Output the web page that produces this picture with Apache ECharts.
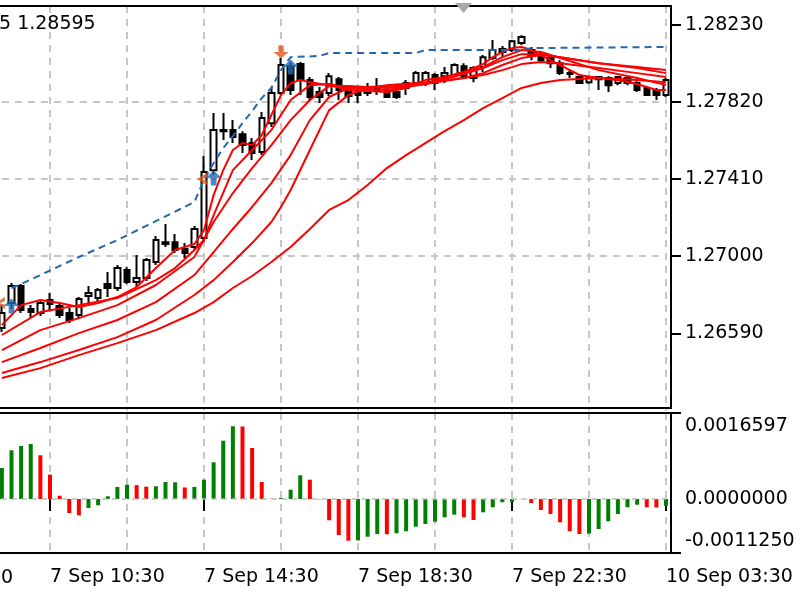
<!DOCTYPE html>
<html>
<head>
<meta charset="utf-8">
<title>GBPUSD,M15</title>
<script src="https://cdn.jsdelivr.net/npm/echarts@6.0.0/dist/echarts.min.js"></script>
<style>
    html, body { margin: 0; padding: 0; background: #fff; }
    #chart { width: 800px; height: 600px; }
</style>
</head>
<body>
<div id="chart"></div>
<script>
// bar times (M15), 7 Sep 09:15 .. 23:45, then 10 Sep 01:00 .. 03:30
function makeTimes(day, h, m, count) {
    let out = [];
    for (let i = 0; i < count; i++) {
        let t = h * 60 + m + i * 15;
        let hh = String(Math.floor(t / 60)).padStart(2, '0');
        let mm = String(t % 60).padStart(2, '0');
        out.push(day + ' ' + hh + ':' + mm);
    }
    return out;
}
const categories = makeTimes('7 Sep', 9, 15, 59).concat(makeTimes('10 Sep', 1, 0, 11));

// open, high, low, close
const ohlc = [
    [1.26618, 1.26740, 1.26597, 1.26698], [1.26751, 1.26858, 1.26719, 1.26842],
    [1.26842, 1.26852, 1.26698, 1.26714], [1.26719, 1.26740, 1.26671, 1.26703],
    [1.26698, 1.26767, 1.26682, 1.26751], [1.26767, 1.26804, 1.26708, 1.26746],
    [1.26735, 1.26756, 1.26671, 1.26687], [1.26698, 1.26724, 1.26645, 1.26661],
    [1.26687, 1.26783, 1.26671, 1.26772], [1.26788, 1.26842, 1.26746, 1.26804],
    [1.26778, 1.26831, 1.26762, 1.26820], [1.26852, 1.26916, 1.26783, 1.26831],
    [1.26831, 1.26953, 1.26815, 1.26937], [1.26927, 1.26942, 1.26852, 1.26863],
    [1.26863, 1.27006, 1.26836, 1.26884], [1.26884, 1.26990, 1.26868, 1.26980],
    [1.26969, 1.27107, 1.26953, 1.27086], [1.27065, 1.27171, 1.27049, 1.27075],
    [1.27075, 1.27118, 1.27017, 1.27033], [1.27038, 1.27070, 1.26990, 1.27017],
    [1.27049, 1.27161, 1.27033, 1.27145], [1.27097, 1.27533, 1.27075, 1.27448],
    [1.27458, 1.27762, 1.27432, 1.27671], [1.27671, 1.27762, 1.27618, 1.27665],
    [1.27671, 1.27724, 1.27602, 1.27634], [1.27649, 1.27665, 1.27549, 1.27591],
    [1.27602, 1.27629, 1.27512, 1.27549], [1.27554, 1.27767, 1.27538, 1.27735],
    [1.27708, 1.27900, 1.27687, 1.27868], [1.27868, 1.28054, 1.27857, 1.28017],
    [1.28011, 1.28033, 1.27857, 1.27884], [1.28022, 1.28033, 1.27857, 1.27937],
    [1.27937, 1.27953, 1.27825, 1.27847], [1.27873, 1.27900, 1.27815, 1.27847],
    [1.27868, 1.27974, 1.27852, 1.27958], [1.27942, 1.27953, 1.27831, 1.27884],
    [1.27889, 1.27905, 1.27815, 1.27852], [1.27879, 1.27895, 1.27815, 1.27857],
    [1.27868, 1.27921, 1.27852, 1.27895], [1.27889, 1.27948, 1.27857, 1.27879],
    [1.27879, 1.27895, 1.27841, 1.27847], [1.27873, 1.27889, 1.27836, 1.27847],
    [1.27895, 1.27937, 1.27857, 1.27921], [1.27921, 1.27985, 1.27905, 1.27974],
    [1.27921, 1.27985, 1.27905, 1.27974], [1.27964, 1.27974, 1.27884, 1.27921],
    [1.27958, 1.28006, 1.27921, 1.27974], [1.27964, 1.28027, 1.27953, 1.28017],
    [1.28011, 1.28027, 1.27948, 1.27958], [1.27948, 1.28011, 1.27926, 1.28001],
    [1.28006, 1.28070, 1.27980, 1.28059], [1.28054, 1.28150, 1.28043, 1.28097],
    [1.28102, 1.28118, 1.28059, 1.28086], [1.28097, 1.28150, 1.28086, 1.28144],
    [1.28134, 1.28176, 1.28123, 1.28166], [1.28097, 1.28113, 1.28043, 1.28065],
    [1.28070, 1.28086, 1.28027, 1.28043], [1.28054, 1.28065, 1.28001, 1.28027],
    [1.28027, 1.28043, 1.27964, 1.27974], [1.27974, 1.27990, 1.27948, 1.27969],
    [1.27953, 1.27964, 1.27916, 1.27921], [1.27926, 1.27958, 1.27916, 1.27953],
    [1.27953, 1.27958, 1.27884, 1.27942], [1.27948, 1.27958, 1.27873, 1.27910],
    [1.27921, 1.27958, 1.27910, 1.27953], [1.27948, 1.27958, 1.27910, 1.27921],
    [1.27921, 1.27937, 1.27873, 1.27884], [1.27895, 1.27905, 1.27852, 1.27857],
    [1.27884, 1.27895, 1.27831, 1.27857], [1.27857, 1.27948, 1.27847, 1.27937]
];

// moving averages, [bar index, price]
const ma1 = [[0, 1.26634], [2, 1.26740], [4, 1.26767], [6, 1.26751], [8, 1.26730], [10, 1.26751],
    [12, 1.26783], [14, 1.26836], [16, 1.26937], [18, 1.27033], [20, 1.27065], [21, 1.27139],
    [22, 1.27325], [23, 1.27458], [24, 1.27565], [25, 1.27602], [26, 1.27591], [27, 1.27645],
    [28, 1.27751], [29, 1.27857], [30, 1.27921], [31, 1.27937], [32, 1.27926], [34, 1.27910],
    [36, 1.27884], [38, 1.27879], [40, 1.27873], [42, 1.27895], [44, 1.27937], [46, 1.27953],
    [48, 1.27980], [50, 1.28022], [51, 1.28059], [52, 1.28086], [53, 1.28107], [54, 1.28113],
    [55, 1.28097], [56, 1.28070], [57, 1.28043], [58, 1.28017], [60, 1.27964], [62, 1.27948],
    [64, 1.27937], [66, 1.27916], [68, 1.27884], [69, 1.27884]];
const ma2 = [[0, 1.26581], [4, 1.26703], [8, 1.26740], [12, 1.26778], [16, 1.26873], [18, 1.26937],
    [20, 1.27033], [21, 1.27086], [22, 1.27219], [24, 1.27458], [26, 1.27565], [28, 1.27671],
    [30, 1.27831], [32, 1.27910], [34, 1.27916], [36, 1.27895], [40, 1.27884], [44, 1.27916],
    [48, 1.27980], [50, 1.28006], [52, 1.28059], [54, 1.28097], [56, 1.28086], [58, 1.28054],
    [62, 1.27990], [66, 1.27948], [69, 1.27910]];
const ma3 = [[0, 1.26501], [4, 1.26607], [8, 1.26671], [12, 1.26740], [16, 1.26847], [20, 1.26996],
    [22, 1.27182], [24, 1.27336], [26, 1.27469], [28, 1.27591], [30, 1.27724], [32, 1.27831],
    [34, 1.27905], [36, 1.27905], [40, 1.27895], [44, 1.27916], [48, 1.27969], [50, 1.28001],
    [52, 1.28043], [54, 1.28075], [56, 1.28075], [58, 1.28059], [62, 1.28027], [66, 1.28006],
    [69, 1.27990]];
const ma4 = [[0, 1.26437], [4, 1.26512], [8, 1.26591], [12, 1.26661], [16, 1.26756], [20, 1.26900],
    [22, 1.27022], [24, 1.27145], [26, 1.27262], [28, 1.27389], [30, 1.27538], [32, 1.27724],
    [34, 1.27847], [36, 1.27895], [40, 1.27905], [44, 1.27916], [48, 1.27948], [50, 1.27974],
    [52, 1.28017], [54, 1.28054], [56, 1.28070], [58, 1.28059], [62, 1.28027], [66, 1.28001],
    [69, 1.27974]];
const ma5 = [[0, 1.26379], [4, 1.26437], [8, 1.26501], [12, 1.26570], [16, 1.26661], [20, 1.26794],
    [22, 1.26873], [24, 1.26969], [26, 1.27070], [28, 1.27182], [29, 1.27262], [30, 1.27352],
    [32, 1.27565], [34, 1.27777], [36, 1.27857], [38, 1.27895], [40, 1.27910], [44, 1.27926],
    [48, 1.27948], [50, 1.27964], [52, 1.27990], [54, 1.28022], [56, 1.28033], [58, 1.28027],
    [62, 1.28001], [66, 1.27974], [69, 1.27953]];
const ma6 = [[0, 1.26352], [4, 1.26405], [8, 1.26474], [12, 1.26538], [16, 1.26607], [20, 1.26698],
    [22, 1.26756], [24, 1.26831], [26, 1.26895], [28, 1.26969], [30, 1.27049], [32, 1.27145],
    [34, 1.27246], [36, 1.27299], [38, 1.27379], [40, 1.27469], [42, 1.27538], [44, 1.27602],
    [46, 1.27665], [48, 1.27724], [50, 1.27788], [52, 1.27841], [54, 1.27895], [56, 1.27921],
    [58, 1.27937], [62, 1.27948], [66, 1.27937], [69, 1.27926]];

// blue dashed line over the highs
const highLine = [[1, 1.26831], [2, 1.26852], [4, 1.26900], [8, 1.26996], [12, 1.27086], [16, 1.27187],
    [20, 1.27288], [21, 1.27405], [22, 1.27496], [23, 1.27575], [24, 1.27639], [25, 1.27708],
    [26, 1.27772], [27, 1.27841], [28, 1.27895], [29, 1.27990], [30, 1.28059], [33, 1.28065],
    [34, 1.28081], [43, 1.28081], [44, 1.28097], [54, 1.28097], [55, 1.28107], [69, 1.28113]];

// trade arrows
const buyArrows = [[1, 1.26735], [22, 1.27416], [30, 1.28006]];
const sellArrows = [[29, 1.28086]];
const closeMarks = [[0, 1.26751], [21, 1.27411]];

// oscillator histogram and bar colours (g = rising, r = falling)
const osc = [
    0.000708, 0.001112, 0.001210, 0.001256, 0.000998, 0.000555, 0.000075, -0.000320, -0.000372, -0.000205,
    -0.000144, 0.000062, 0.000274, 0.000326, 0.000316, 0.000281, 0.000290, 0.000388, 0.000381, 0.000263,
    0.000274, 0.000441, 0.000838, 0.001331, 0.0016597, 0.001655, 0.001164, 0.000388, 0.000007, 0.000023,
    0.000212, 0.000541, 0.000441, -0.000008, -0.000486, -0.000822, -0.000952, -0.000945, -0.000861, -0.000799,
    -0.000805, -0.000783, -0.000737, -0.000632, -0.000571, -0.000518, -0.000418, -0.000358, -0.000418, -0.000479,
    -0.000304, -0.000189, -0.000075, -0.000070, -0.000005, -0.000091, -0.000251, -0.000342, -0.000532, -0.000737,
    -0.000799, -0.000790, -0.000685, -0.000509, -0.000342, -0.000189, -0.000130, -0.000189, -0.000195, -0.000153
];
const oscColor = ('ggggrrrrrg' + 'ggggrrgggr' + 'gggggrrrrg' + 'ggrrrrrggg' +
    'rgggggggrr' + 'gggggrrrrr' + 'rggggggrrg').split('');

const priceLabels = [1.26590, 1.27000, 1.27410, 1.27820, 1.28230];
const oscLabels = ['0.0016597', '0.0000000', '-0.0011250'];

const FONT = 'DejaVu Sans';
const GRID_LINE = { color: '#c6c6c6', width: 2, type: [7, 6] };
const upArrow = 'path://M7,0 L14,7 L9.5,7 L9.5,14 L4.5,14 L4.5,7 L0,7 Z';
const downArrow = 'path://M4.5,0 L9.5,0 L9.5,7 L14,7 L7,14 L0,7 L4.5,7 Z';
const closeMark = 'path://M0,5 L9,0 L9,3.5 L4.5,5 L9,6.5 L9,10 Z';

const chart = echarts.init(document.getElementById('chart'));

function maSeries(data) {
    return {
        type: 'line',
        xAxisIndex: 0,
        yAxisIndex: 0,
        data: data,
        connectNulls: true,
        symbol: 'none',
        silent: true,
        z: 3,
        lineStyle: { color: '#ff0000', width: 2 }
    };
}

const gridLineEvery8 = (i) => (i - 5) % 8 === 0;
const labelEvery16 = (i) => (i - 5) % 16 === 0;

const option = {
    animation: false,
    backgroundColor: '#ffffff',
    grid: [
        { left: 1.875, right: 134, top: 6, bottom: 189.6, outerBoundsMode: 'none' },
        { left: 1.875, right: 134, top: 413, bottom: 47, outerBoundsMode: 'none' }
    ],
    xAxis: [
        {
            type: 'category',
            gridIndex: 0,
            data: categories,
            boundaryGap: false,
            axisLine: { show: false },
            axisTick: { show: false },
            axisLabel: { show: false },
            splitLine: { show: true, interval: gridLineEvery8, lineStyle: GRID_LINE }
        },
        {
            type: 'category',
            gridIndex: 1,
            data: categories,
            boundaryGap: false,
            axisLine: { show: false },
            axisTick: {
                show: true, interval: labelEvery16, length: 12,
                lineStyle: { color: '#000', width: 2 }
            },
            axisLabel: {
                interval: labelEvery16, align: 'left', margin: 15,
                color: '#000', fontSize: 19, fontFamily: FONT
            },
            splitLine: { show: true, interval: gridLineEvery8, lineStyle: GRID_LINE }
        }
    ],
    yAxis: [
        {
            type: 'value',
            gridIndex: 0,
            position: 'right',
            offset: 5,
            min: 1.2618,
            max: 1.28331,
            interval: 0.0041,
            axisLine: { show: false },
            axisTick: {
                show: true, length: 10, customValues: priceLabels,
                lineStyle: { color: '#000', width: 2 }
            },
            axisLabel: {
                customValues: priceLabels,
                margin: 14, color: '#000', fontSize: 19, fontFamily: FONT,
                formatter: (v) => v.toFixed(5)
            },
            splitLine: { show: true, showMinLine: false, showMaxLine: false, lineStyle: GRID_LINE }
        },
        {
            type: 'value',
            gridIndex: 1,
            position: 'right',
            offset: 5,
            min: -0.0012329,
            max: 0.0019635,
            axisLine: { show: false },
            axisTick: {
                show: true, length: 10, customValues: [-0.0012329, 0.0019635],
                lineStyle: { color: '#000', width: 2 }
            },
            axisLabel: {
                customValues: [Math.max(...osc), 0, Math.min(...osc)],
                margin: 14, color: '#000', fontSize: 19, fontFamily: FONT,
                formatter: (v) => v > 0 ? oscLabels[0] : (v === 0 ? oscLabels[1] : oscLabels[2])
            },
            splitLine: { show: false }
        }
    ],
    series: [
        {
            type: 'candlestick',
            xAxisIndex: 0,
            yAxisIndex: 0,
            barWidth: 6,
            silent: true,
            z: 2,
            data: ohlc.map(r => [r[0], r[3], r[2], r[1]]),
            itemStyle: {
                color: '#ffffff',
                color0: '#000000',
                borderColor: '#000000',
                borderColor0: '#000000',
                borderWidth: 2
            }
        },
        maSeries(ma6),
        maSeries(ma5),
        maSeries(ma4),
        maSeries(ma3),
        maSeries(ma2),
        maSeries(ma1),
        {
            type: 'line',
            xAxisIndex: 0,
            yAxisIndex: 0,
            data: highLine,
            connectNulls: true,
            symbol: 'none',
            silent: true,
            z: 3,
            lineStyle: { color: '#2168b0', width: 2, type: [7, 5] }
        },
        {
            type: 'scatter',
            xAxisIndex: 0,
            yAxisIndex: 0,
            data: buyArrows,
            symbol: upArrow,
            symbolSize: [16, 15],
            silent: true,
            z: 5,
            itemStyle: { color: '#1f6bb5' }
        },
        {
            type: 'scatter',
            xAxisIndex: 0,
            yAxisIndex: 0,
            data: sellArrows,
            symbol: downArrow,
            symbolSize: [15, 13],
            silent: true,
            z: 5,
            itemStyle: { color: '#e05a1e' }
        },
        {
            type: 'scatter',
            xAxisIndex: 0,
            yAxisIndex: 0,
            data: closeMarks,
            symbol: closeMark,
            symbolSize: [10, 12],
            symbolOffset: [-2, 0],
            silent: true,
            z: 5,
            itemStyle: { color: '#e05a1e' }
        },
        {
            type: 'bar',
            xAxisIndex: 1,
            yAxisIndex: 1,
            barWidth: 4,
            silent: true,
            data: osc.map((v, i) => ({
                value: v,
                itemStyle: { color: oscColor[i] === 'g' ? '#008000' : '#ff0000' }
            })),
            markLine: {
                silent: true,
                symbol: 'none',
                label: { show: false },
                lineStyle: { color: '#bdbdbd', width: 1.5, type: [5, 5] },
                data: [{ yAxis: 0 }]
            }
        }
    ],
    graphic: [
        {
            type: 'polyline', silent: true, z: 100,
            shape: { points: [[0, 6], [671, 6], [671, 408], [0, 408]] },
            style: { stroke: '#000', lineWidth: 2, fill: null }
        },
        {
            type: 'polyline', silent: true, z: 100,
            shape: { points: [[0, 413], [671, 413], [671, 553], [0, 553]] },
            style: { stroke: '#000', lineWidth: 2, fill: null }
        },
        {
            type: 'polygon', silent: true, z: 101,
            shape: { points: [[455, 3], [472, 3], [463.5, 13]] },
            style: { fill: '#a9a9a9' }
        },
        {
            type: 'text', silent: true, z: 101, x: -1, y: 24,
            style: { text: '5 1.28595', font: '19px "DejaVu Sans"', fill: '#000', verticalAlign: 'middle' }
        },
        {
            type: 'text', silent: true, z: 101, x: 13, y: 578,
            style: { text: '7 Sep 06:30', font: '19px "DejaVu Sans"', fill: '#000', align: 'right', verticalAlign: 'middle' }
        }
    ]
};

chart.setOption(option);
window.addEventListener('resize', () => chart.resize());
</script>
</body>
</html>
